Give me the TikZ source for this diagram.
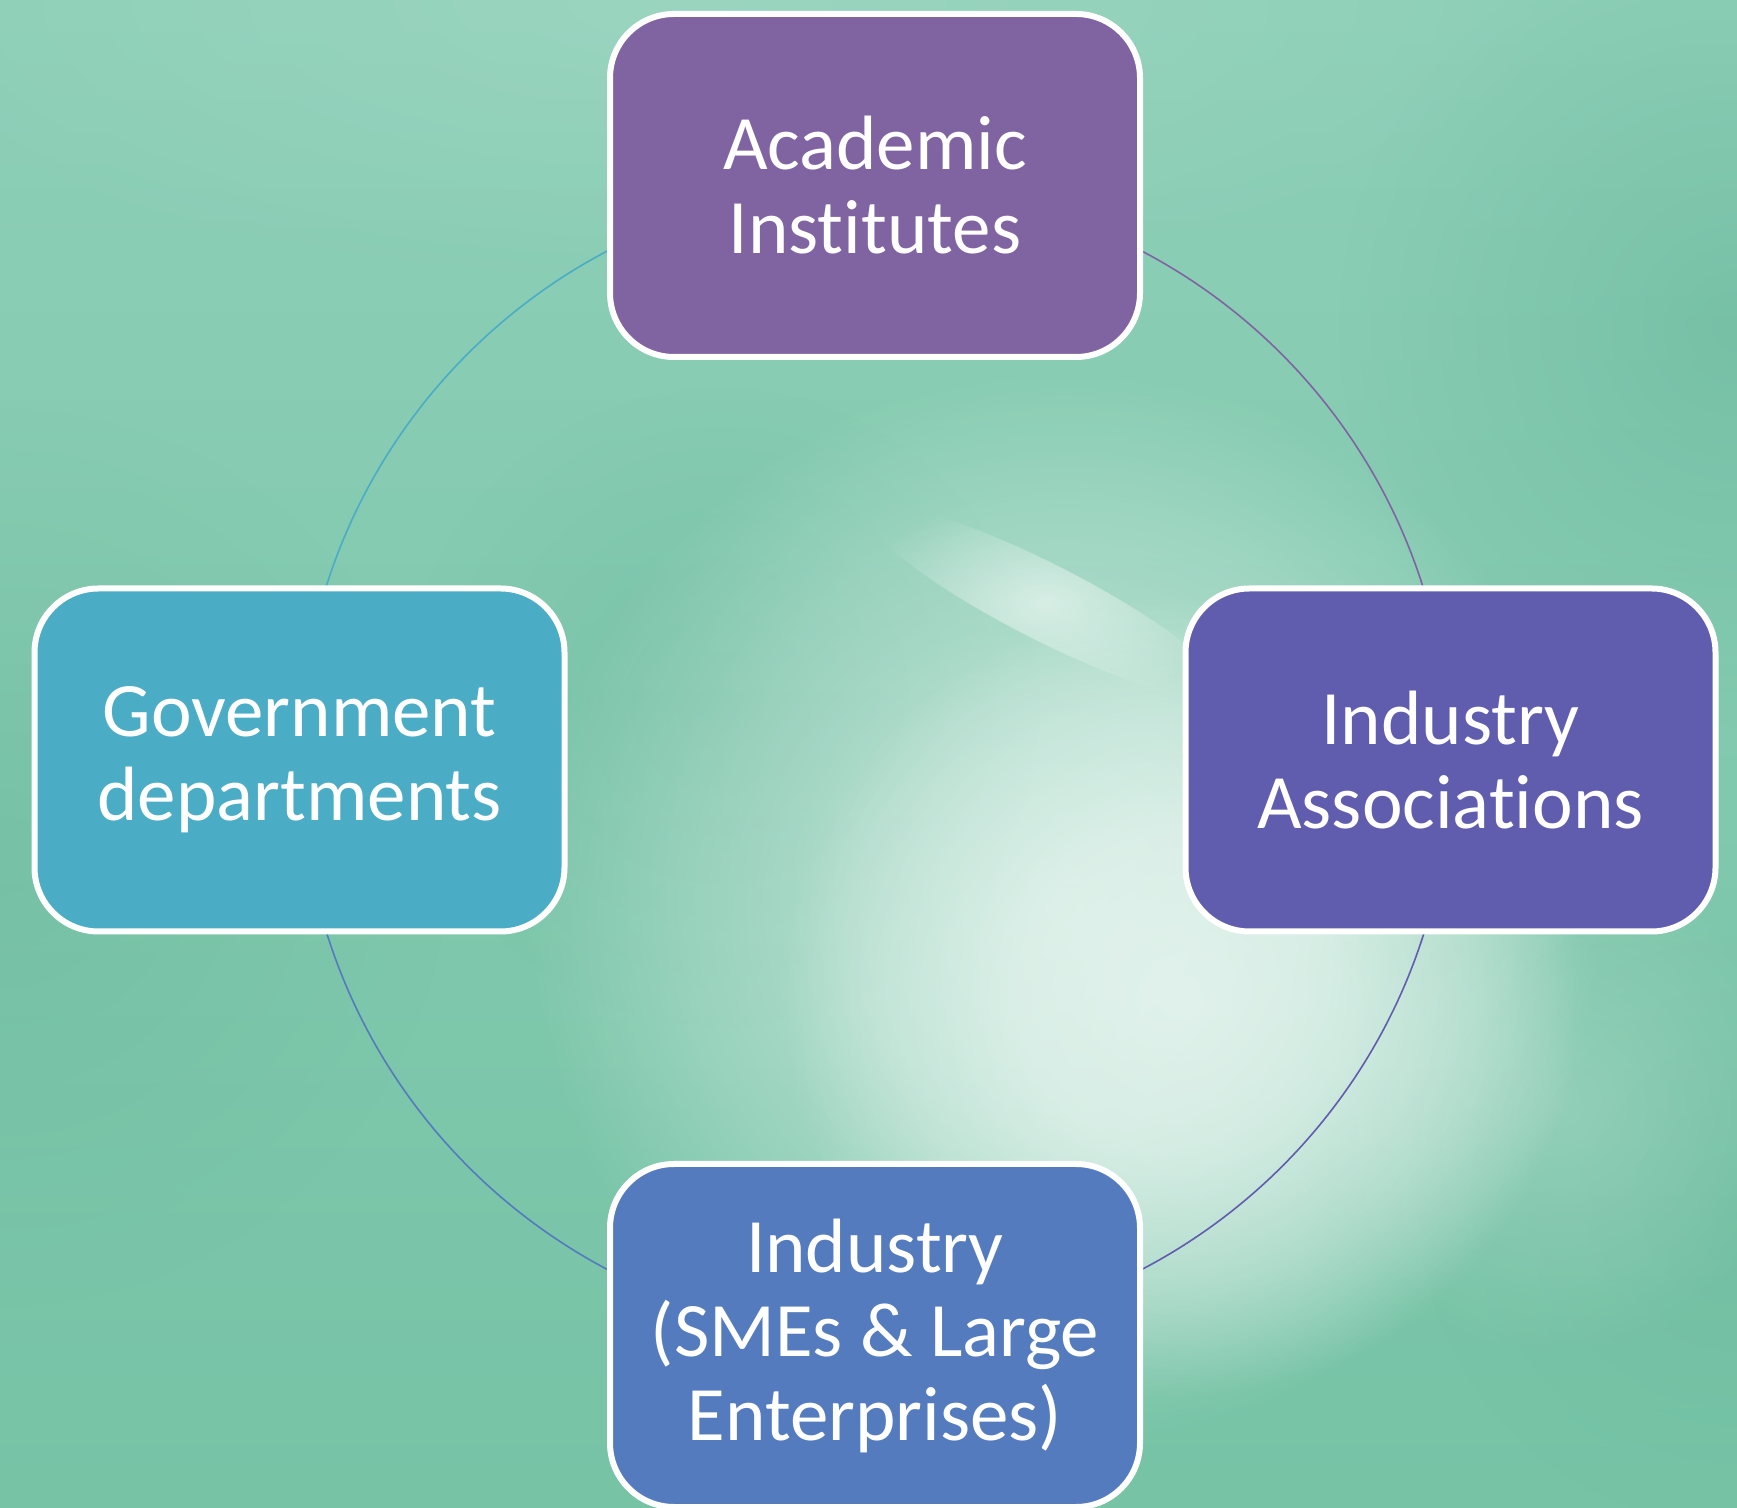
\documentclass[tikz,border=0pt]{standalone}
\usepackage{fontspec}
\setmainfont{Carlito}[Ligatures={NoCommon}]
\usetikzlibrary{fadings}

\definecolor{bgtop}{HTML}{8DCFB7}
\definecolor{bgbot}{HTML}{76C3A6}
\definecolor{bgdark}{HTML}{62B297}
\definecolor{acad}{HTML}{8064A2}
\definecolor{gov}{HTML}{4BACC6}
\definecolor{assoc}{HTML}{615DAE}
\definecolor{indus}{HTML}{547BBD}

% soft disc: opaque plateau, then a smooth fall-off
\pgfdeclareradialshading{discshade}{\pgfpoint{0bp}{0bp}}{%
  color(0bp)=(white); color(10bp)=(white!85!black);
  color(18bp)=(white!45!black); color(25bp)=(black); color(50bp)=(black)}
\pgfdeclarefading{softdisc}{\pgfuseshading{discshade}}
\tikzfading[name=softglow, inner color=transparent!0, outer color=transparent!100]

\pgfdeclarelayer{backdrop}
\pgfdeclarelayer{ringlayer}
\pgfsetlayers{backdrop,ringlayer,main}

\tikzset{
  partner/.style={
    draw=white, line width=6pt, rounded corners=64pt,
    minimum width=530pt, minimum height=343pt,
    align=center, text=white,
    font=\fontsize{77}{84}\selectfont
  },
  ring/.style={line width=1.6pt}
}

\begin{document}
\begin{tikzpicture}[x=1pt,y=1pt]
  \useasboundingbox (0,0) rectangle (1737,1507);

  % the four partners
  \node[partner, fill=acad]  (acad)  at (875,1321.5) {Academic\\Institutes};
  \node[partner, fill=assoc] (assoc) at (1450.5,747) {Industry\\Associations};
  \node[partner, fill=indus] (indus) at (875,171.5)  {Industry\\(SMEs \& Large\\Enterprises)};
  \node[partner, fill=gov]   (gov)   at (299.5,747)  {Government\\departments};

  % ring linking them, behind the boxes
  \begin{pgfonlayer}{ringlayer}
    \draw[ring, acad]  (acad.center)  arc[start angle=90,  end angle=0,    radius=574.5];
    \draw[ring, assoc] (assoc.center) arc[start angle=0,   end angle=-90,  radius=574.5];
    \draw[ring, indus] (indus.center) arc[start angle=-90, end angle=-180, radius=574.5];
    \draw[ring, gov]   (gov.center)   arc[start angle=180, end angle=90,   radius=574.5];
  \end{pgfonlayer}

  % backdrop
  \begin{pgfonlayer}{backdrop}
    \shade[top color=bgtop, bottom color=bgbot] (0,0) rectangle (1737,1507);
    \fill[bgdark, opacity=0.45, path fading=softglow] (1737,1180) circle (400);
    \fill[bgdark, opacity=0.30, path fading=softglow] (0,650) circle (450);
    \fill[bgdark, opacity=0.30, path fading=softglow] (720,800) circle (320);
    \fill[bgdark, opacity=0.30, path fading=softglow] (1737,300) circle (320);
    \fill[white, opacity=0.12, path fading=softglow] (700,1507) ellipse (900 and 300);
    \fill[white, opacity=0.45, path fading=softdisc] (1065,600) circle (540);
    \fill[white, opacity=0.60, path fading=softdisc] (1180,510) circle (400);
    \fill[white, opacity=0.55, path fading=softglow, rotate around={-27:(1045,905)}]
      (1045,905) ellipse (200 and 38);
    \fill[white, opacity=0.20, path fading=softglow] (1560,400) circle (250);
  \end{pgfonlayer}
\end{tikzpicture}
\end{document}
